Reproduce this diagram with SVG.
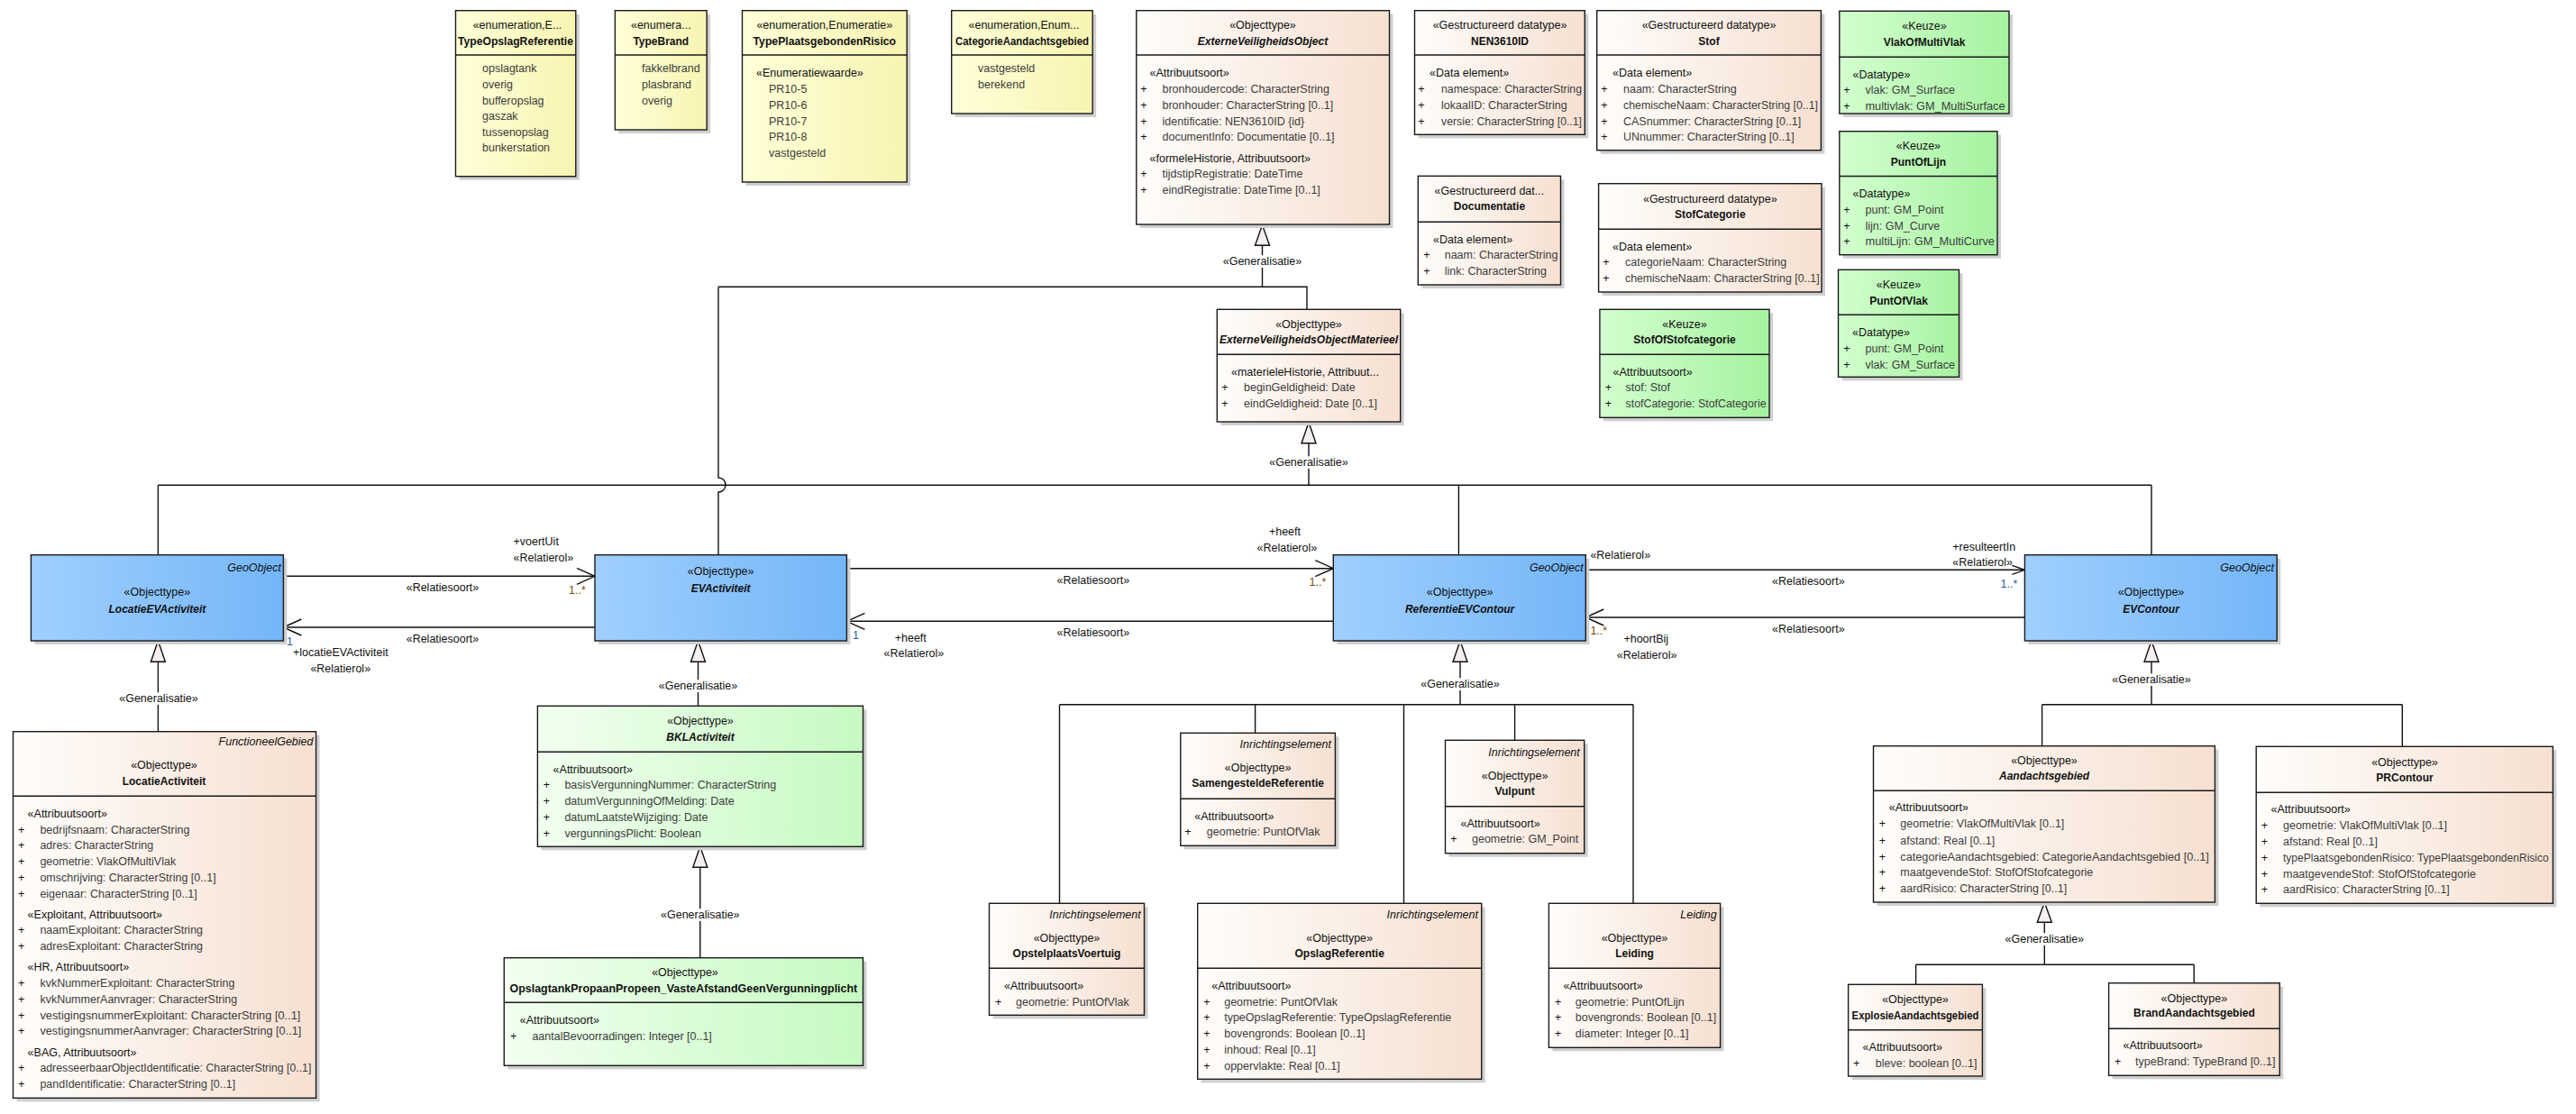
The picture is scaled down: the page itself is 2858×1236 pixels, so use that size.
<svg xmlns="http://www.w3.org/2000/svg" width="2858" height="1236" viewBox="0 0 2858 1236">
<defs>
<linearGradient id="yel" x1="0" x2="1" y1="0" y2="0"><stop offset="0" stop-color="#FFFFD8"/><stop offset="1" stop-color="#F8F4B2"/></linearGradient>
<linearGradient id="peach" x1="0" x2="1" y1="0" y2="0"><stop offset="0" stop-color="#FFFDFB"/><stop offset="1" stop-color="#F6E0D1"/></linearGradient>
<linearGradient id="green" x1="0" x2="1" y1="0" y2="0"><stop offset="0" stop-color="#D2FFCE"/><stop offset="1" stop-color="#A6F2A0"/></linearGradient>
<linearGradient id="lgreen" x1="0" x2="1" y1="0" y2="0"><stop offset="0" stop-color="#F2FFF0"/><stop offset="1" stop-color="#C6FAC2"/></linearGradient>
<linearGradient id="blue" x1="0" x2="1" y1="0" y2="0"><stop offset="0" stop-color="#A0CFFF"/><stop offset="1" stop-color="#74B6F8"/></linearGradient>
<marker id="open" viewBox="0 0 22 20" refX="21" refY="10" markerWidth="22" markerHeight="20" markerUnits="userSpaceOnUse" orient="auto"><path d="M1,1 L21,10 L1,19" fill="none" stroke="#111" stroke-width="1.4"/></marker>
<marker id="opens" viewBox="0 0 16 12" refX="15" refY="6" markerWidth="16" markerHeight="12" markerUnits="userSpaceOnUse" orient="auto"><path d="M1,1 L15,6 L1,11" fill="none" stroke="#111" stroke-width="1.4"/></marker>
</defs>
<style>
.bx{stroke:#1a1a1a;stroke-width:1.4}
.sh{fill:#cfcfcf}
.sp{stroke:#1a1a1a;stroke-width:1.4}
text{font-family:"Liberation Sans",Arial,sans-serif;font-size:12.5px;dominant-baseline:central;fill:#111}
.m{text-anchor:middle}
.r{text-anchor:end}
.b{font-weight:bold;font-size:12px}
.i{font-style:italic}
.g{fill:#3c3c3c}
.ln{stroke:#111;stroke-width:1.4;fill:none}
.tri{fill:#F4EEEE;stroke:#111;stroke-width:1.4}
.gl{stroke:#fff;stroke-width:6;paint-order:stroke}
.br{fill:#7A4B00}
.bl{fill:#1F5AA8}
</style>
<rect width="2858" height="1236" fill="#fff"/>

<g id="connectors">
<!-- generalization to ExterneVeiligheidsObject -->
<path class="ln" d="M1400.5,272.3 V318.3 M797,318.3 H1450 V343.3 M797,318.3 V530 A8,8 0 0 1 797,546 V615.7"/>
<path class="tri" d="M1400.5,249.5 L1392.5,272.3 L1408.5,272.3 Z"/>
<text class="m gl" x="1400.5" y="289.7">«Generalisatie»</text>
<!-- generalization to Materieel -->
<path class="ln" d="M1452,491.7 V538.3 M175.4,538.3 H2387 M175.4,538.3 V615.7 M1618.4,538.3 V615.7 M2387,538.3 V615.7"/>
<path class="tri" d="M1452,468.5 L1444,491.7 L1460,491.7 Z"/>
<text class="m gl" x="1452" y="512.7">«Generalisatie»</text>
<!-- LocatieEVActiviteit -> LocatieActiviteit -->
<path class="ln" d="M175.4,734.3 V811.7"/>
<path class="tri" d="M175.4,711 L167.4,734.3 L183.4,734.3 Z"/>
<text class="m gl" x="176" y="775">«Generalisatie»</text>
<!-- EVActiviteit -> BKL -->
<path class="ln" d="M774.5,734.3 V783.3"/>
<path class="tri" d="M774.5,711 L766.5,734.3 L782.5,734.3 Z"/>
<text class="m gl" x="774.5" y="760.7">«Generalisatie»</text>
<!-- BKL -> Opslagtank -->
<path class="ln" d="M776.8,962.3 V1062.7"/>
<path class="tri" d="M776.8,939.3 L768.8,962.3 L784.8,962.3 Z"/>
<text class="m gl" x="776.8" y="1014.7">«Generalisatie»</text>
<!-- ReferentieEVContour children -->
<path class="ln" d="M1620,734.3 V781.7 M1175.5,781.7 H1812 M1175.5,781.7 V1002.3 M1392.6,781.7 V813.3 M1557.5,781.7 V1002.3 M1680.6,781.7 V821.3 M1812,781.7 V1002.3"/>
<path class="tri" d="M1620,711 L1612,734.3 L1628,734.3 Z"/>
<text class="m gl" x="1620" y="759.3">«Generalisatie»</text>
<!-- EVContour children -->
<path class="ln" d="M2387,734.3 V781.7 M2265.6,781.7 H2665.3 M2265.6,781.7 V827.7 M2665.3,781.7 V828.3"/>
<path class="tri" d="M2387,711 L2379,734.3 L2395,734.3 Z"/>
<text class="m gl" x="2387" y="754">«Generalisatie»</text>
<!-- Aandachtsgebied children -->
<path class="ln" d="M2268.3,1023.3 V1070.3 M2125.6,1070.3 H2434.2 M2125.6,1070.3 V1092.3 M2434.2,1070.3 V1090.7"/>
<path class="tri" d="M2268.3,1001 L2260.3,1023.3 L2276.3,1023.3 Z"/>
<text class="m gl" x="2268.3" y="1041.7">«Generalisatie»</text>

<!-- associations -->
<line class="ln" x1="314.4" y1="639.3" x2="660" y2="639.3" marker-end="url(#open)"/>
<text x="569.5" y="601">+voertUit</text>
<text x="569.5" y="619">«Relatierol»</text>
<text class="m" x="491" y="652.3">«Relatiesoort»</text>
<text class="br" x="631" y="655">1..*</text>

<line class="ln" x1="660" y1="696" x2="314.4" y2="696" marker-end="url(#open)"/>
<text class="m" x="491" y="709">«Relatiesoort»</text>
<text class="bl" x="318" y="712.3">1</text>
<text x="325" y="723.7">+locatieEVActiviteit</text>
<text x="344.4" y="741.7">«Relatierol»</text>

<line class="ln" x1="939.4" y1="630.7" x2="1479.3" y2="630.7" marker-end="url(#open)"/>
<text x="1407.9" y="590.3">+heeft</text>
<text x="1394.5" y="608.3">«Relatierol»</text>
<text class="m" x="1212.8" y="644.3">«Relatiesoort»</text>
<text class="br" x="1452.6" y="646">1..*</text>

<line class="ln" x1="1479.3" y1="689.3" x2="939.4" y2="689.3" marker-end="url(#open)"/>
<text class="m" x="1212.8" y="702">«Relatiesoort»</text>
<text class="bl" x="946" y="705">1</text>
<text x="992.7" y="708">+heeft</text>
<text x="980.6" y="724.7">«Relatierol»</text>

<line class="ln" x1="1759.3" y1="632.3" x2="2246.4" y2="632.3" marker-end="url(#opens)"/>
<text x="1764.4" y="616.3">«Relatierol»</text>
<text class="m" x="2006.3" y="645">«Relatiesoort»</text>
<text x="2166.3" y="607">+resulteertIn</text>
<text x="2166.3" y="623.7">«Relatierol»</text>
<text class="bl" x="2219.5" y="647.7">1..*</text>

<line class="ln" x1="2246.4" y1="685" x2="1759.3" y2="685" marker-end="url(#open)"/>
<text class="m" x="2006.3" y="697.7">«Relatiesoort»</text>
<text class="br" x="1764.4" y="700.3">1..*</text>
<text x="1801.4" y="709.3">+hoortBij</text>
<text x="1793.7" y="727">«Relatierol»</text>
</g>

<!-- ENUMERATIONS -->
<g id="TypeOpslagReferentie">
<rect class="sh" x="509.5" y="15.7" width="133.3" height="184"/>
<rect class="bx" fill="url(#yel)" x="505.5" y="11.7" width="133.3" height="184"/>
<line class="sp" x1="505.5" y1="61" x2="638.8" y2="61"/>
<text class="m" x="574" y="28.3">«enumeration,E...</text>
<text class="m b" x="572" y="45.7" textLength="128" lengthAdjust="spacingAndGlyphs">TypeOpslagReferentie</text>
<text class="g" x="535" y="76">opslagtank</text>
<text class="g" x="535" y="94">overig</text>
<text class="g" x="535" y="111.7">bufferopslag</text>
<text class="g" x="535" y="129.3">gaszak</text>
<text class="g" x="535" y="146.7">tussenopslag</text>
<text class="g" x="535" y="164.3">bunkerstation</text>
</g>
<g id="TypeBrand">
<rect class="sh" x="686.4" y="15.7" width="101.8" height="132.3"/>
<rect class="bx" fill="url(#yel)" x="682.4" y="11.7" width="101.8" height="132.3"/>
<line class="sp" x1="682.4" y1="61" x2="784.2" y2="61"/>
<text class="m" x="733.3" y="28.3">«enumera...</text>
<text class="m b" x="733.3" y="45.7">TypeBrand</text>
<text class="g" x="712" y="76">fakkelbrand</text>
<text class="g" x="712" y="94">plasbrand</text>
<text class="g" x="712" y="111.7">overig</text>
</g>
<g id="TypePlaatsgebondenRisico">
<rect class="sh" x="827.5" y="15.7" width="182.7" height="190.3"/>
<rect class="bx" fill="url(#yel)" x="823.5" y="11.7" width="182.7" height="190.3"/>
<line class="sp" x1="823.5" y1="61" x2="1006.2" y2="61"/>
<text class="m" x="914.8" y="28.3">«enumeration,Enumeratie»</text>
<text class="m b" x="914.8" y="45.7" textLength="158.5" lengthAdjust="spacingAndGlyphs">TypePlaatsgebondenRisico</text>
<text x="839" y="81">«Enumeratiewaarde»</text>
<text class="g" x="853" y="99">PR10-5</text>
<text class="g" x="853" y="117">PR10-6</text>
<text class="g" x="853" y="134.7">PR10-7</text>
<text class="g" x="853" y="152">PR10-8</text>
<text class="g" x="853" y="170">vastgesteld</text>
</g>
<g id="CategorieAandachtsgebied">
<rect class="sh" x="1059.7" y="15.7" width="156.5" height="114.3"/>
<rect class="bx" fill="url(#yel)" x="1055.7" y="11.7" width="156.5" height="114.3"/>
<line class="sp" x1="1055.7" y1="61" x2="1212.2" y2="61"/>
<text class="m" x="1136" y="28.3">«enumeration,Enum...</text>
<text class="m b" x="1134" y="45.7" textLength="148" lengthAdjust="spacingAndGlyphs">CategorieAandachtsgebied</text>
<text class="g" x="1085" y="76">vastgesteld</text>
<text class="g" x="1085" y="94">berekend</text>
</g>

<!-- TOP DATATYPES -->
<g id="ExterneVeiligheidsObject">
<rect class="sh" x="1264.8" y="15.7" width="280.7" height="237.3"/>
<rect class="bx" fill="url(#peach)" x="1260.8" y="11.7" width="280.7" height="237.3"/>
<line class="sp" x1="1260.8" y1="61" x2="1541.5" y2="61"/>
<text class="m" x="1401" y="28.3">«Objecttype»</text>
<text class="m b i" x="1401" y="45.7">ExterneVeiligheidsObject</text>
<text x="1275.5" y="80.7">«Attribuutsoort»</text>
<text class="m" x="1269" y="98.7">+</text><text class="g" x="1289.5" y="98.7">bronhoudercode: CharacterString</text>
<text class="m" x="1269" y="116.7">+</text><text class="g" x="1289.5" y="116.7">bronhouder: CharacterString [0..1]</text>
<text class="m" x="1269" y="134.7">+</text><text class="g" x="1289.5" y="134.7">identificatie: NEN3610ID {id}</text>
<text class="m" x="1269" y="152.3">+</text><text class="g" x="1289.5" y="152.3">documentInfo: Documentatie [0..1]</text>
<text x="1275.5" y="175.7">«formeleHistorie, Attribuutsoort»</text>
<text class="m" x="1269" y="192.7">+</text><text class="g" x="1289.5" y="192.7">tijdstipRegistratie: DateTime</text>
<text class="m" x="1269" y="210.7">+</text><text class="g" x="1289.5" y="210.7">eindRegistratie: DateTime [0..1]</text>
</g>
<g id="NEN3610ID">
<rect class="sh" x="1573.5" y="15.7" width="188.8" height="137.6"/>
<rect class="bx" fill="url(#peach)" x="1569.5" y="11.7" width="188.8" height="137.6"/>
<line class="sp" x1="1569.5" y1="61" x2="1758.3" y2="61"/>
<text class="m" x="1664" y="28.3">«Gestructureerd datatype»</text>
<text class="m b" x="1664" y="45.7">NEN3610ID</text>
<text x="1586" y="80.7">«Data element»</text>
<text class="m" x="1577" y="98.7">+</text><text class="g" x="1599" y="98.7" textLength="156" lengthAdjust="spacingAndGlyphs">namespace: CharacterString</text>
<text class="m" x="1577" y="116.7">+</text><text class="g" x="1599" y="116.7">lokaalID: CharacterString</text>
<text class="m" x="1577" y="134.7">+</text><text class="g" x="1599" y="134.7" textLength="156" lengthAdjust="spacingAndGlyphs">versie: CharacterString [0..1]</text>
</g>
<g id="Stof">
<rect class="sh" x="1775.7" y="15.7" width="248.7" height="155"/>
<rect class="bx" fill="url(#peach)" x="1771.7" y="11.7" width="248.7" height="155"/>
<line class="sp" x1="1771.7" y1="61" x2="2020.4" y2="61"/>
<text class="m" x="1896" y="28.3">«Gestructureerd datatype»</text>
<text class="m b" x="1896" y="45.7">Stof</text>
<text x="1789" y="80.7">«Data element»</text>
<text class="m" x="1780" y="98.7">+</text><text class="g" x="1801" y="98.7">naam: CharacterString</text>
<text class="m" x="1780" y="116.7">+</text><text class="g" x="1801" y="116.7" textLength="216" lengthAdjust="spacingAndGlyphs">chemischeNaam: CharacterString [0..1]</text>
<text class="m" x="1780" y="134.7">+</text><text class="g" x="1801" y="134.7">CASnummer: CharacterString [0..1]</text>
<text class="m" x="1780" y="152">+</text><text class="g" x="1801" y="152">UNnummer: CharacterString [0..1]</text>
</g>
<g id="VlakOfMultiVlak">
<rect class="sh" x="2044.8" y="16.3" width="188.2" height="113.7"/>
<rect class="bx" fill="url(#green)" x="2040.8" y="12.3" width="188.2" height="113.7"/>
<line class="sp" x1="2040.8" y1="63.3" x2="2229" y2="63.3"/>
<text class="m" x="2135" y="29">«Keuze»</text>
<text class="m b" x="2135" y="46.7">VlakOfMultiVlak</text>
<text x="2055.5" y="82.7">«Datatype»</text>
<text class="m" x="2049" y="100">+</text><text class="g" x="2069.5" y="100">vlak: GM_Surface</text>
<text class="m" x="2049" y="117.7">+</text><text class="g" x="2069.5" y="117.7" textLength="155" lengthAdjust="spacingAndGlyphs">multivlak: GM_MultiSurface</text>
</g>
<g id="PuntOfLijn">
<rect class="sh" x="2044.8" y="149.7" width="175.2" height="137"/>
<rect class="bx" fill="url(#green)" x="2040.8" y="145.7" width="175.2" height="137"/>
<line class="sp" x1="2040.8" y1="195.5" x2="2216" y2="195.5"/>
<text class="m" x="2128.4" y="162.3">«Keuze»</text>
<text class="m b" x="2128.4" y="180">PuntOfLijn</text>
<text x="2055.5" y="214.7">«Datatype»</text>
<text class="m" x="2049" y="232.7">+</text><text class="g" x="2069.5" y="232.7">punt: GM_Point</text>
<text class="m" x="2049" y="250.7">+</text><text class="g" x="2069.5" y="250.7">lijn: GM_Curve</text>
<text class="m" x="2049" y="268">+</text><text class="g" x="2069.5" y="268" textLength="143.5" lengthAdjust="spacingAndGlyphs">multiLijn: GM_MultiCurve</text>
</g>
<g id="Documentatie">
<rect class="sh" x="1577.3" y="199.3" width="158.2" height="120.7"/>
<rect class="bx" fill="url(#peach)" x="1573.3" y="195.3" width="158.2" height="120.7"/>
<line class="sp" x1="1573.3" y1="246.3" x2="1731.5" y2="246.3"/>
<text class="m" x="1652.4" y="212">«Gestructureerd dat...</text>
<text class="m b" x="1652.4" y="229.3">Documentatie</text>
<text x="1590" y="266">«Data element»</text>
<text class="m" x="1583" y="283.3">+</text><text class="g" x="1602.7" y="283.3">naam: CharacterString</text>
<text class="m" x="1583" y="301">+</text><text class="g" x="1602.7" y="301">link: CharacterString</text>
</g>
<g id="StofCategorie">
<rect class="sh" x="1777.6" y="207.7" width="247.4" height="120.3"/>
<rect class="bx" fill="url(#peach)" x="1773.6" y="203.7" width="247.4" height="120.3"/>
<line class="sp" x1="1773.6" y1="254.3" x2="2021" y2="254.3"/>
<text class="m" x="1897.3" y="220.7">«Gestructureerd datatype»</text>
<text class="m b" x="1897.3" y="237.7">StofCategorie</text>
<text x="1789" y="273.7">«Data element»</text>
<text class="m" x="1782" y="291">+</text><text class="g" x="1803" y="291">categorieNaam: CharacterString</text>
<text class="m" x="1782" y="309">+</text><text class="g" x="1803" y="309" textLength="215.6" lengthAdjust="spacingAndGlyphs">chemischeNaam: CharacterString [0..1]</text>
</g>
<g id="PuntOfVlak">
<rect class="sh" x="2043.5" y="303.3" width="134" height="119"/>
<rect class="bx" fill="url(#green)" x="2039.5" y="299.3" width="134" height="119"/>
<line class="sp" x1="2039.5" y1="349.3" x2="2173.5" y2="349.3"/>
<text class="m" x="2106.5" y="315.7">«Keuze»</text>
<text class="m b" x="2106.5" y="333.7">PuntOfVlak</text>
<text x="2055" y="369">«Datatype»</text>
<text class="m" x="2049" y="386.7">+</text><text class="g" x="2069.5" y="386.7">punt: GM_Point</text>
<text class="m" x="2049" y="404.7">+</text><text class="g" x="2069.5" y="404.7">vlak: GM_Surface</text>
</g>
<g id="StofOfStofcategorie">
<rect class="sh" x="1778.9" y="347.3" width="188.1" height="120"/>
<rect class="bx" fill="url(#green)" x="1774.9" y="343.3" width="188.1" height="120"/>
<line class="sp" x1="1774.9" y1="393.3" x2="1963" y2="393.3"/>
<text class="m" x="1869" y="360">«Keuze»</text>
<text class="m b" x="1869" y="376.7">StofOfStofcategorie</text>
<text x="1789.5" y="412.7">«Attribuutsoort»</text>
<text class="m" x="1784.4" y="430.3">+</text><text class="g" x="1803.6" y="430.3">stof: Stof</text>
<text class="m" x="1784.4" y="448">+</text><text class="g" x="1803.6" y="448" textLength="156" lengthAdjust="spacingAndGlyphs">stofCategorie: StofCategorie</text>
</g>
<g id="ExterneVeiligheidsObjectMaterieel">
<rect class="sh" x="1354.3" y="347.3" width="203.4" height="124.7"/>
<rect class="bx" fill="url(#peach)" x="1350.3" y="343.3" width="203.4" height="124.7"/>
<line class="sp" x1="1350.3" y1="393.3" x2="1553.7" y2="393.3"/>
<text class="m" x="1452" y="360">«Objecttype»</text>
<text class="m b i" x="1452" y="377.3" textLength="198" lengthAdjust="spacingAndGlyphs">ExterneVeiligheidsObjectMaterieel</text>
<text x="1366" y="412.7">«materieleHistorie, Attribuut...</text>
<text class="m" x="1359" y="430">+</text><text class="g" x="1380" y="430">beginGeldigheid: Date</text>
<text class="m" x="1359" y="447.7">+</text><text class="g" x="1380" y="447.7">eindGeldigheid: Date [0..1]</text>
</g>

<!-- BLUE ROW -->
<g id="LocatieEVActiviteit">
<rect class="sh" x="38.4" y="619.7" width="280" height="95.3"/>
<rect class="bx" fill="url(#blue)" x="34.4" y="615.7" width="280" height="95.3"/>
<text class="r i" x="312" y="630">GeoObject</text>
<text class="m" x="174.4" y="656.7">«Objecttype»</text>
<text class="m b i" x="174.4" y="676">LocatieEVActiviteit</text>
</g>
<g id="EVActiviteit">
<rect class="sh" x="664" y="619.7" width="279.4" height="95.3"/>
<rect class="bx" fill="url(#blue)" x="660" y="615.7" width="279.4" height="95.3"/>
<text class="m" x="799.7" y="634.3">«Objecttype»</text>
<text class="m b i" x="799.7" y="653">EVActiviteit</text>
</g>
<g id="ReferentieEVContour">
<rect class="sh" x="1483.3" y="619.7" width="280" height="95.3"/>
<rect class="bx" fill="url(#blue)" x="1479.3" y="615.7" width="280" height="95.3"/>
<text class="r i" x="1756.7" y="630">GeoObject</text>
<text class="m" x="1619.6" y="656.7">«Objecttype»</text>
<text class="m b i" x="1619.6" y="676">ReferentieEVContour</text>
</g>
<g id="EVContour">
<rect class="sh" x="2250.4" y="619.7" width="279.8" height="95.3"/>
<rect class="bx" fill="url(#blue)" x="2246.4" y="615.7" width="279.8" height="95.3"/>
<text class="r i" x="2523" y="630">GeoObject</text>
<text class="m" x="2386.5" y="656.7">«Objecttype»</text>
<text class="m b i" x="2386.5" y="676">EVContour</text>
</g>

<!-- LOWER -->
<g id="LocatieActiviteit">
<rect class="sh" x="18.5" y="815.7" width="336.1" height="406.6"/>
<rect class="bx" fill="url(#peach)" x="14.5" y="811.7" width="336.1" height="406.6"/>
<line class="sp" x1="14.5" y1="883.3" x2="350.6" y2="883.3"/>
<text class="r i" x="347.5" y="823.3">FunctioneelGebied</text>
<text class="m" x="182" y="849.3">«Objecttype»</text>
<text class="m b" x="182" y="866.7">LocatieActiviteit</text>
<text x="30.6" y="902.7">«Attribuutsoort»</text>
<text class="m" x="23.7" y="920.7">+</text><text class="g" x="44.4" y="920.7">bedrijfsnaam: CharacterString</text>
<text class="m" x="23.7" y="938.3">+</text><text class="g" x="44.4" y="938.3">adres: CharacterString</text>
<text class="m" x="23.7" y="955.7">+</text><text class="g" x="44.4" y="955.7">geometrie: VlakOfMultiVlak</text>
<text class="m" x="23.7" y="973.7">+</text><text class="g" x="44.4" y="973.7">omschrijving: CharacterString [0..1]</text>
<text class="m" x="23.7" y="991.7">+</text><text class="g" x="44.4" y="991.7">eigenaar: CharacterString [0..1]</text>
<text x="30.6" y="1014.7">«Exploitant, Attribuutsoort»</text>
<text class="m" x="23.7" y="1032">+</text><text class="g" x="44.4" y="1032">naamExploitant: CharacterString</text>
<text class="m" x="23.7" y="1050">+</text><text class="g" x="44.4" y="1050">adresExploitant: CharacterString</text>
<text x="30.6" y="1072.7">«HR, Attribuutsoort»</text>
<text class="m" x="23.7" y="1091">+</text><text class="g" x="44.4" y="1091">kvkNummerExploitant: CharacterString</text>
<text class="m" x="23.7" y="1109">+</text><text class="g" x="44.4" y="1109">kvkNummerAanvrager: CharacterString</text>
<text class="m" x="23.7" y="1126.7">+</text><text class="g" x="44.4" y="1126.7" textLength="289" lengthAdjust="spacingAndGlyphs">vestigingsnummerExploitant: CharacterString [0..1]</text>
<text class="m" x="23.7" y="1144">+</text><text class="g" x="44.4" y="1144" textLength="290" lengthAdjust="spacingAndGlyphs">vestigingsnummerAanvrager: CharacterString [0..1]</text>
<text x="30.6" y="1167.7">«BAG, Attribuutsoort»</text>
<text class="m" x="23.7" y="1185">+</text><text class="g" x="44.4" y="1185" textLength="301" lengthAdjust="spacingAndGlyphs">adresseerbaarObjectIdentificatie: CharacterString [0..1]</text>
<text class="m" x="23.7" y="1203">+</text><text class="g" x="44.4" y="1203">pandIdentificatie: CharacterString [0..1]</text>
</g>
<g id="BKLActiviteit">
<rect class="sh" x="600.4" y="787.3" width="361.1" height="156"/>
<rect class="bx" fill="url(#lgreen)" x="596.4" y="783.3" width="361.1" height="156"/>
<line class="sp" x1="596.4" y1="834.3" x2="957.5" y2="834.3"/>
<text class="m" x="777" y="800">«Objecttype»</text>
<text class="m b i" x="777" y="817.7">BKLActiviteit</text>
<text x="613.6" y="853.7">«Attribuutsoort»</text>
<text class="m" x="606.4" y="871">+</text><text class="g" x="626.4" y="871">basisVergunningNummer: CharacterString</text>
<text class="m" x="606.4" y="889">+</text><text class="g" x="626.4" y="889">datumVergunningOfMelding: Date</text>
<text class="m" x="606.4" y="906.7">+</text><text class="g" x="626.4" y="906.7">datumLaatsteWijziging: Date</text>
<text class="m" x="606.4" y="924.7">+</text><text class="g" x="626.4" y="924.7">vergunningsPlicht: Boolean</text>
</g>
<g id="OpslagtankPropaanPropeen_VasteAfstandGeenVergunningplicht">
<rect class="sh" x="563.3" y="1066.7" width="398.2" height="119.6"/>
<rect class="bx" fill="url(#lgreen)" x="559.3" y="1062.7" width="398.2" height="119.6"/>
<line class="sp" x1="559.3" y1="1112.3" x2="957.5" y2="1112.3"/>
<text class="m" x="760" y="1078.7">«Objecttype»</text>
<text class="m b" x="758.4" y="1096.7" textLength="385.7" lengthAdjust="spacingAndGlyphs">OpslagtankPropaanPropeen_VasteAfstandGeenVergunningplicht</text>
<text x="576.8" y="1131.7">«Attribuutsoort»</text>
<text class="m" x="569.6" y="1149.7">+</text><text class="g" x="590.4" y="1149.7">aantalBevoorradingen: Integer [0..1]</text>
</g>
<g id="SamengesteldeReferentie">
<rect class="sh" x="1313.8" y="817.3" width="171.6" height="125"/>
<rect class="bx" fill="url(#peach)" x="1309.8" y="813.3" width="171.6" height="125"/>
<line class="sp" x1="1309.8" y1="886.3" x2="1481.4" y2="886.3"/>
<text class="r i" x="1477" y="825.7">Inrichtingselement</text>
<text class="m" x="1395.6" y="851.7">«Objecttype»</text>
<text class="m b" x="1395.6" y="869.3">SamengesteldeReferentie</text>
<text x="1325.3" y="905.7">«Attribuutsoort»</text>
<text class="m" x="1318" y="923">+</text><text class="g" x="1338.8" y="923">geometrie: PuntOfVlak</text>
</g>
<g id="Vulpunt">
<rect class="sh" x="1607.5" y="825.3" width="154.2" height="125.4"/>
<rect class="bx" fill="url(#peach)" x="1603.5" y="821.3" width="154.2" height="125.4"/>
<line class="sp" x1="1603.5" y1="894.7" x2="1757.7" y2="894.7"/>
<text class="r i" x="1752.8" y="834.7">Inrichtingselement</text>
<text class="m" x="1680.6" y="860.7">«Objecttype»</text>
<text class="m b" x="1680.6" y="877.7">Vulpunt</text>
<text x="1620.5" y="913.7">«Attribuutsoort»</text>
<text class="m" x="1613" y="930.7">+</text><text class="g" x="1633" y="930.7">geometrie: GM_Point</text>
</g>
<g id="OpstelplaatsVoertuig">
<rect class="sh" x="1101.5" y="1006.3" width="172" height="124"/>
<rect class="bx" fill="url(#peach)" x="1097.5" y="1002.3" width="172" height="124"/>
<line class="sp" x1="1097.5" y1="1074.3" x2="1269.5" y2="1074.3"/>
<text class="r i" x="1265.7" y="1014.7">Inrichtingselement</text>
<text class="m" x="1183.5" y="1040.7">«Objecttype»</text>
<text class="m b" x="1183.5" y="1057.7">OpstelplaatsVoertuig</text>
<text x="1114" y="1093.7">«Attribuutsoort»</text>
<text class="m" x="1107.6" y="1111.7">+</text><text class="g" x="1127" y="1111.7">geometrie: PuntOfVlak</text>
</g>
<g id="OpslagReferentie">
<rect class="sh" x="1332.7" y="1006.3" width="315" height="195"/>
<rect class="bx" fill="url(#peach)" x="1328.7" y="1002.3" width="315" height="195"/>
<line class="sp" x1="1328.7" y1="1074.3" x2="1643.7" y2="1074.3"/>
<text class="r i" x="1640" y="1014.7">Inrichtingselement</text>
<text class="m" x="1486.2" y="1040.7">«Objecttype»</text>
<text class="m b" x="1486.2" y="1057.7">OpslagReferentie</text>
<text x="1344.2" y="1093.7">«Attribuutsoort»</text>
<text class="m" x="1338.8" y="1111.7">+</text><text class="g" x="1358.2" y="1111.7">geometrie: PuntOfVlak</text>
<text class="m" x="1338.8" y="1129">+</text><text class="g" x="1358.2" y="1129">typeOpslagReferentie: TypeOpslagReferentie</text>
<text class="m" x="1338.8" y="1146.7">+</text><text class="g" x="1358.2" y="1146.7">bovengronds: Boolean [0..1]</text>
<text class="m" x="1338.8" y="1164.7">+</text><text class="g" x="1358.2" y="1164.7">inhoud: Real [0..1]</text>
<text class="m" x="1338.8" y="1182.7">+</text><text class="g" x="1358.2" y="1182.7">oppervlakte: Real [0..1]</text>
</g>
<g id="Leiding">
<rect class="sh" x="1722.4" y="1006.3" width="190.2" height="160"/>
<rect class="bx" fill="url(#peach)" x="1718.4" y="1002.3" width="190.2" height="160"/>
<line class="sp" x1="1718.4" y1="1074.3" x2="1908.6" y2="1074.3"/>
<text class="r i" x="1904.7" y="1014.7">Leiding</text>
<text class="m" x="1813.5" y="1040.7">«Objecttype»</text>
<text class="m b" x="1813.5" y="1057.7">Leiding</text>
<text x="1734.4" y="1093.7">«Attribuutsoort»</text>
<text class="m" x="1728.7" y="1111.7">+</text><text class="g" x="1747.8" y="1111.7">geometrie: PuntOfLijn</text>
<text class="m" x="1728.7" y="1129">+</text><text class="g" x="1747.8" y="1129">bovengronds: Boolean [0..1]</text>
<text class="m" x="1728.7" y="1146.7">+</text><text class="g" x="1747.8" y="1146.7">diameter: Integer [0..1]</text>
</g>
<g id="Aandachtsgebied">
<rect class="sh" x="2082.5" y="831.7" width="378.9" height="173.3"/>
<rect class="bx" fill="url(#peach)" x="2078.5" y="827.7" width="378.9" height="173.3"/>
<line class="sp" x1="2078.5" y1="877.3" x2="2457.4" y2="877.3"/>
<text class="m" x="2268" y="843.7">«Objecttype»</text>
<text class="m b i" x="2268" y="861.3">Aandachtsgebied</text>
<text x="2095.7" y="896.3">«Attribuutsoort»</text>
<text class="m" x="2088.4" y="914.3">+</text><text class="g" x="2108.3" y="914.3">geometrie: VlakOfMultiVlak [0..1]</text>
<text class="m" x="2088.4" y="932.7">+</text><text class="g" x="2108.3" y="932.7">afstand: Real [0..1]</text>
<text class="m" x="2088.4" y="950.7">+</text><text class="g" x="2108.3" y="950.7" textLength="342.6" lengthAdjust="spacingAndGlyphs">categorieAandachtsgebied: CategorieAandachtsgebied [0..1]</text>
<text class="m" x="2088.4" y="968.3">+</text><text class="g" x="2108.3" y="968.3">maatgevendeStof: StofOfStofcategorie</text>
<text class="m" x="2088.4" y="985.7">+</text><text class="g" x="2108.3" y="985.7">aardRisico: CharacterString [0..1]</text>
</g>
<g id="PRContour">
<rect class="sh" x="2507.2" y="832.3" width="329.2" height="174"/>
<rect class="bx" fill="url(#peach)" x="2503.2" y="828.3" width="329.2" height="174"/>
<line class="sp" x1="2503.2" y1="879.3" x2="2832.4" y2="879.3"/>
<text class="m" x="2668" y="845.7">«Objecttype»</text>
<text class="m b" x="2668" y="862.7">PRContour</text>
<text x="2519.5" y="898.3">«Attribuutsoort»</text>
<text class="m" x="2512.5" y="915.7">+</text><text class="g" x="2533" y="915.7">geometrie: VlakOfMultiVlak [0..1]</text>
<text class="m" x="2512.5" y="933.7">+</text><text class="g" x="2533" y="933.7">afstand: Real [0..1]</text>
<text class="m" x="2512.5" y="951.7">+</text><text class="g" x="2533" y="951.7" textLength="294.7" lengthAdjust="spacingAndGlyphs">typePlaatsgebondenRisico: TypePlaatsgebondenRisico</text>
<text class="m" x="2512.5" y="969.7">+</text><text class="g" x="2533" y="969.7">maatgevendeStof: StofOfStofcategorie</text>
<text class="m" x="2512.5" y="987">+</text><text class="g" x="2533" y="987">aardRisico: CharacterString [0..1]</text>
</g>
<g id="ExplosieAandachtsgebied">
<rect class="sh" x="2054.6" y="1096.3" width="148.8" height="101.7"/>
<rect class="bx" fill="url(#peach)" x="2050.6" y="1092.3" width="148.8" height="101.7"/>
<line class="sp" x1="2050.6" y1="1142.7" x2="2199.4" y2="1142.7"/>
<text class="m" x="2125" y="1108.7">«Objecttype»</text>
<text class="m b" x="2125" y="1126.7" textLength="140.8" lengthAdjust="spacingAndGlyphs">ExplosieAandachtsgebied</text>
<text x="2066.6" y="1161.7">«Attribuutsoort»</text>
<text class="m" x="2059.7" y="1179.7">+</text><text class="g" x="2080.8" y="1179.7">bleve: boolean [0..1]</text>
</g>
<g id="BrandAandachtsgebied">
<rect class="sh" x="2343.6" y="1094.7" width="189.6" height="102.6"/>
<rect class="bx" fill="url(#peach)" x="2339.6" y="1090.7" width="189.6" height="102.6"/>
<line class="sp" x1="2339.6" y1="1141.3" x2="2529.2" y2="1141.3"/>
<text class="m" x="2434.4" y="1107.7">«Objecttype»</text>
<text class="m b" x="2434.4" y="1124.3">BrandAandachtsgebied</text>
<text x="2355.5" y="1160.3">«Attribuutsoort»</text>
<text class="m" x="2349.6" y="1177.7">+</text><text class="g" x="2369" y="1177.7">typeBrand: TypeBrand [0..1]</text>
</g>
</svg>
